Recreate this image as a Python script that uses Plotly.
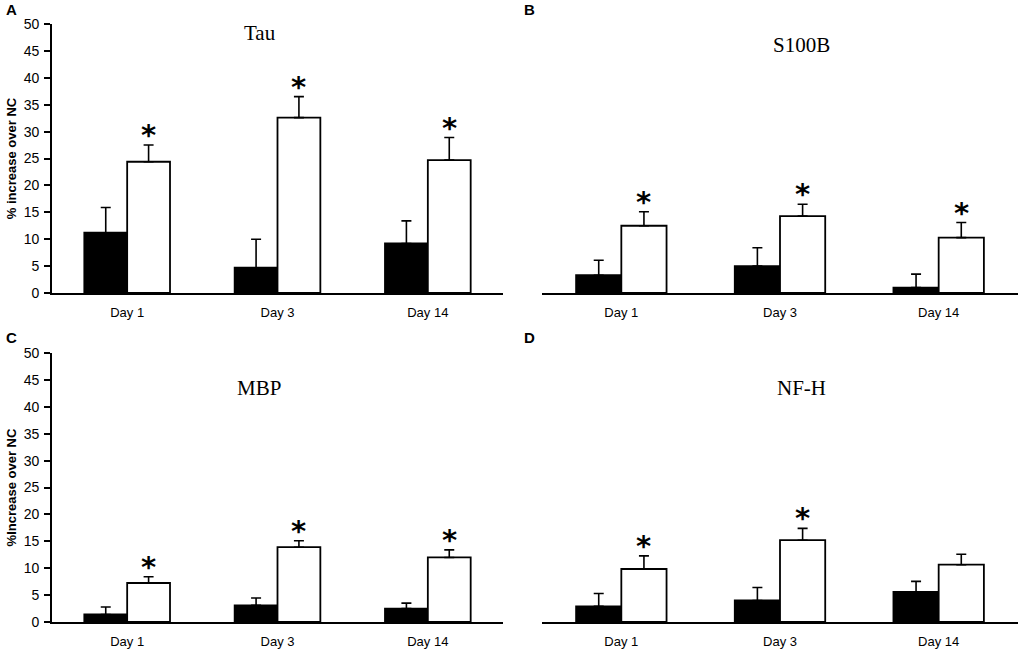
import plotly.graph_objects as go

# data (% increase over NC)
days = ["Day 1", "Day 3", "Day 14"]

tau_black = [11.2, 4.7, 9.2]
tau_black_err = [4.7, 5.3, 4.2]
tau_white = [24.4, 32.6, 24.7]
tau_white_err = [3.1, 3.9, 4.2]
tau_stars = [True, True, True]

s100b_black = [3.3, 5.0, 1.0]
s100b_black_err = [2.8, 3.4, 2.5]
s100b_white = [12.5, 14.3, 10.3]
s100b_white_err = [2.6, 2.2, 2.8]
s100b_stars = [True, True, True]

mbp_black = [1.4, 3.1, 2.5]
mbp_black_err = [1.4, 1.35, 1.0]
mbp_white = [7.25, 13.9, 12.0]
mbp_white_err = [1.15, 1.2, 1.4]
mbp_stars = [True, True, True]

nfh_black = [2.9, 4.0, 5.6]
nfh_black_err = [2.4, 2.4, 1.95]
nfh_white = [9.85, 15.2, 10.65]
nfh_white_err = [2.45, 2.2, 1.95]
nfh_stars = [True, True, False]

W, H = 1023, 654
BARGAP = 0.43

# panel geometry in pixels: (x0, x1, ybottom, ytop)
panels = [
    dict(name="A", title="Tau", ytitle="% increase over NC", yaxis_on=True,
         px=(52, 503, 293, 24), title_pos=(260, 33), letter_pos=(11, 9),
         black=tau_black, black_err=tau_black_err, white=tau_white,
         white_err=tau_white_err, stars=tau_stars),
    dict(name="B", title="S100B", ytitle=None, yaxis_on=False,
         px=(542, 1018, 293, 24), title_pos=(801, 45), letter_pos=(529, 9),
         black=s100b_black, black_err=s100b_black_err, white=s100b_white,
         white_err=s100b_white_err, stars=s100b_stars),
    dict(name="C", title="MBP", ytitle="%Increase over NC", yaxis_on=True,
         px=(52, 503, 622, 353), title_pos=(259, 388), letter_pos=(11, 337),
         black=mbp_black, black_err=mbp_black_err, white=mbp_white,
         white_err=mbp_white_err, stars=mbp_stars),
    dict(name="D", title="NF-H", ytitle=None, yaxis_on=False,
         px=(542, 1018, 622, 353), title_pos=(801, 388), letter_pos=(529, 337),
         black=nfh_black, black_err=nfh_black_err, white=nfh_white,
         white_err=nfh_white_err, stars=nfh_stars),
]

sans = "Liberation Sans, Arial, sans-serif"
ytick_font = dict(family=sans, size=14, color="black")
xtick_font = dict(family=sans, size=13, color="black")

fig = go.Figure()
annotations = []
layout = {}

for i, p in enumerate(panels):
    n = "" if i == 0 else str(i + 1)
    xa, ya = "x" + n, "y" + n
    x0, x1, yb, yt = p["px"]

    for vals, errs, fill in [(p["black"], p["black_err"], "black"),
                             (p["white"], p["white_err"], "white")]:
        fig.add_trace(go.Bar(
            x=days, y=vals, xaxis=xa, yaxis=ya,
            marker=dict(color=fill, line=dict(color="black", width=1.8)),
            error_y=dict(type="data", array=errs, arrayminus=[0] * len(errs),
                         symmetric=False, color="black", thickness=1.6, width=5),
            showlegend=False, hoverinfo="skip", cliponaxis=False,
        ))

    layout["xaxis" + n] = dict(
        domain=[x0 / W, x1 / W], anchor=ya, type="category", automargin=False,
        showline=True, linecolor="black", linewidth=1.8, ticks="",
        showgrid=False, zeroline=False, tickfont=xtick_font,
        ticklabelstandoff=6, fixedrange=True,
    )
    layout["yaxis" + n] = dict(
        domain=[1 - yb / H, 1 - yt / H], anchor=xa, range=[0, 50], automargin=False,
        dtick=5, showgrid=False, zeroline=False, fixedrange=True,
        showline=p["yaxis_on"], linecolor="black", linewidth=1.8,
        ticks="outside" if p["yaxis_on"] else "", ticklen=6, tickwidth=1.5,
        tickcolor="black", showticklabels=p["yaxis_on"], tickfont=ytick_font,
        ticklabelstandoff=2,
        title=dict(text=p["ytitle"] or "", standoff=4,
                   font=dict(family=sans, size=13, color="black", weight="bold")),
    )

    # significance stars above the white bars
    cat_px = (x1 - x0) / len(days)
    half_bar = cat_px * (1 - BARGAP) / 4
    for d, v, e, s in zip(days, p["white"], p["white_err"], p["stars"]):
        if s:
            annotations.append(dict(
                x=d, y=v + e, xref=xa, yref=ya, text="<b>*</b>", showarrow=False,
                xshift=half_bar, yanchor="bottom", yshift=-9,
                font=dict(family="DejaVu Sans, sans-serif", size=29, color="black"),
            ))

    tx, ty = p["title_pos"]
    annotations.append(dict(
        x=tx / W, y=1 - ty / H, xref="paper", yref="paper", text=p["title"],
        showarrow=False, xanchor="center", yanchor="middle",
        font=dict(family="Liberation Serif, Times New Roman, serif", size=21, color="black"),
    ))
    lx, ly = p["letter_pos"]
    annotations.append(dict(
        x=lx / W, y=1 - ly / H, xref="paper", yref="paper", text="<b>%s</b>" % p["name"],
        showarrow=False, xanchor="center", yanchor="middle",
        font=dict(family=sans, size=15, color="black"),
    ))

fig.update_layout(
    width=W, height=H, margin=dict(l=0, r=0, t=0, b=0),
    barmode="group", bargap=BARGAP, bargroupgap=0,
    plot_bgcolor="white", paper_bgcolor="white",
    annotations=annotations, **layout,
)

# page body has an 8px default margin; drop it so the figure fills the window
fig.write_html("out.html", config={"displayModeBar": False},
               post_script="document.body.style.margin='0';document.body.style.overflow='hidden';")
